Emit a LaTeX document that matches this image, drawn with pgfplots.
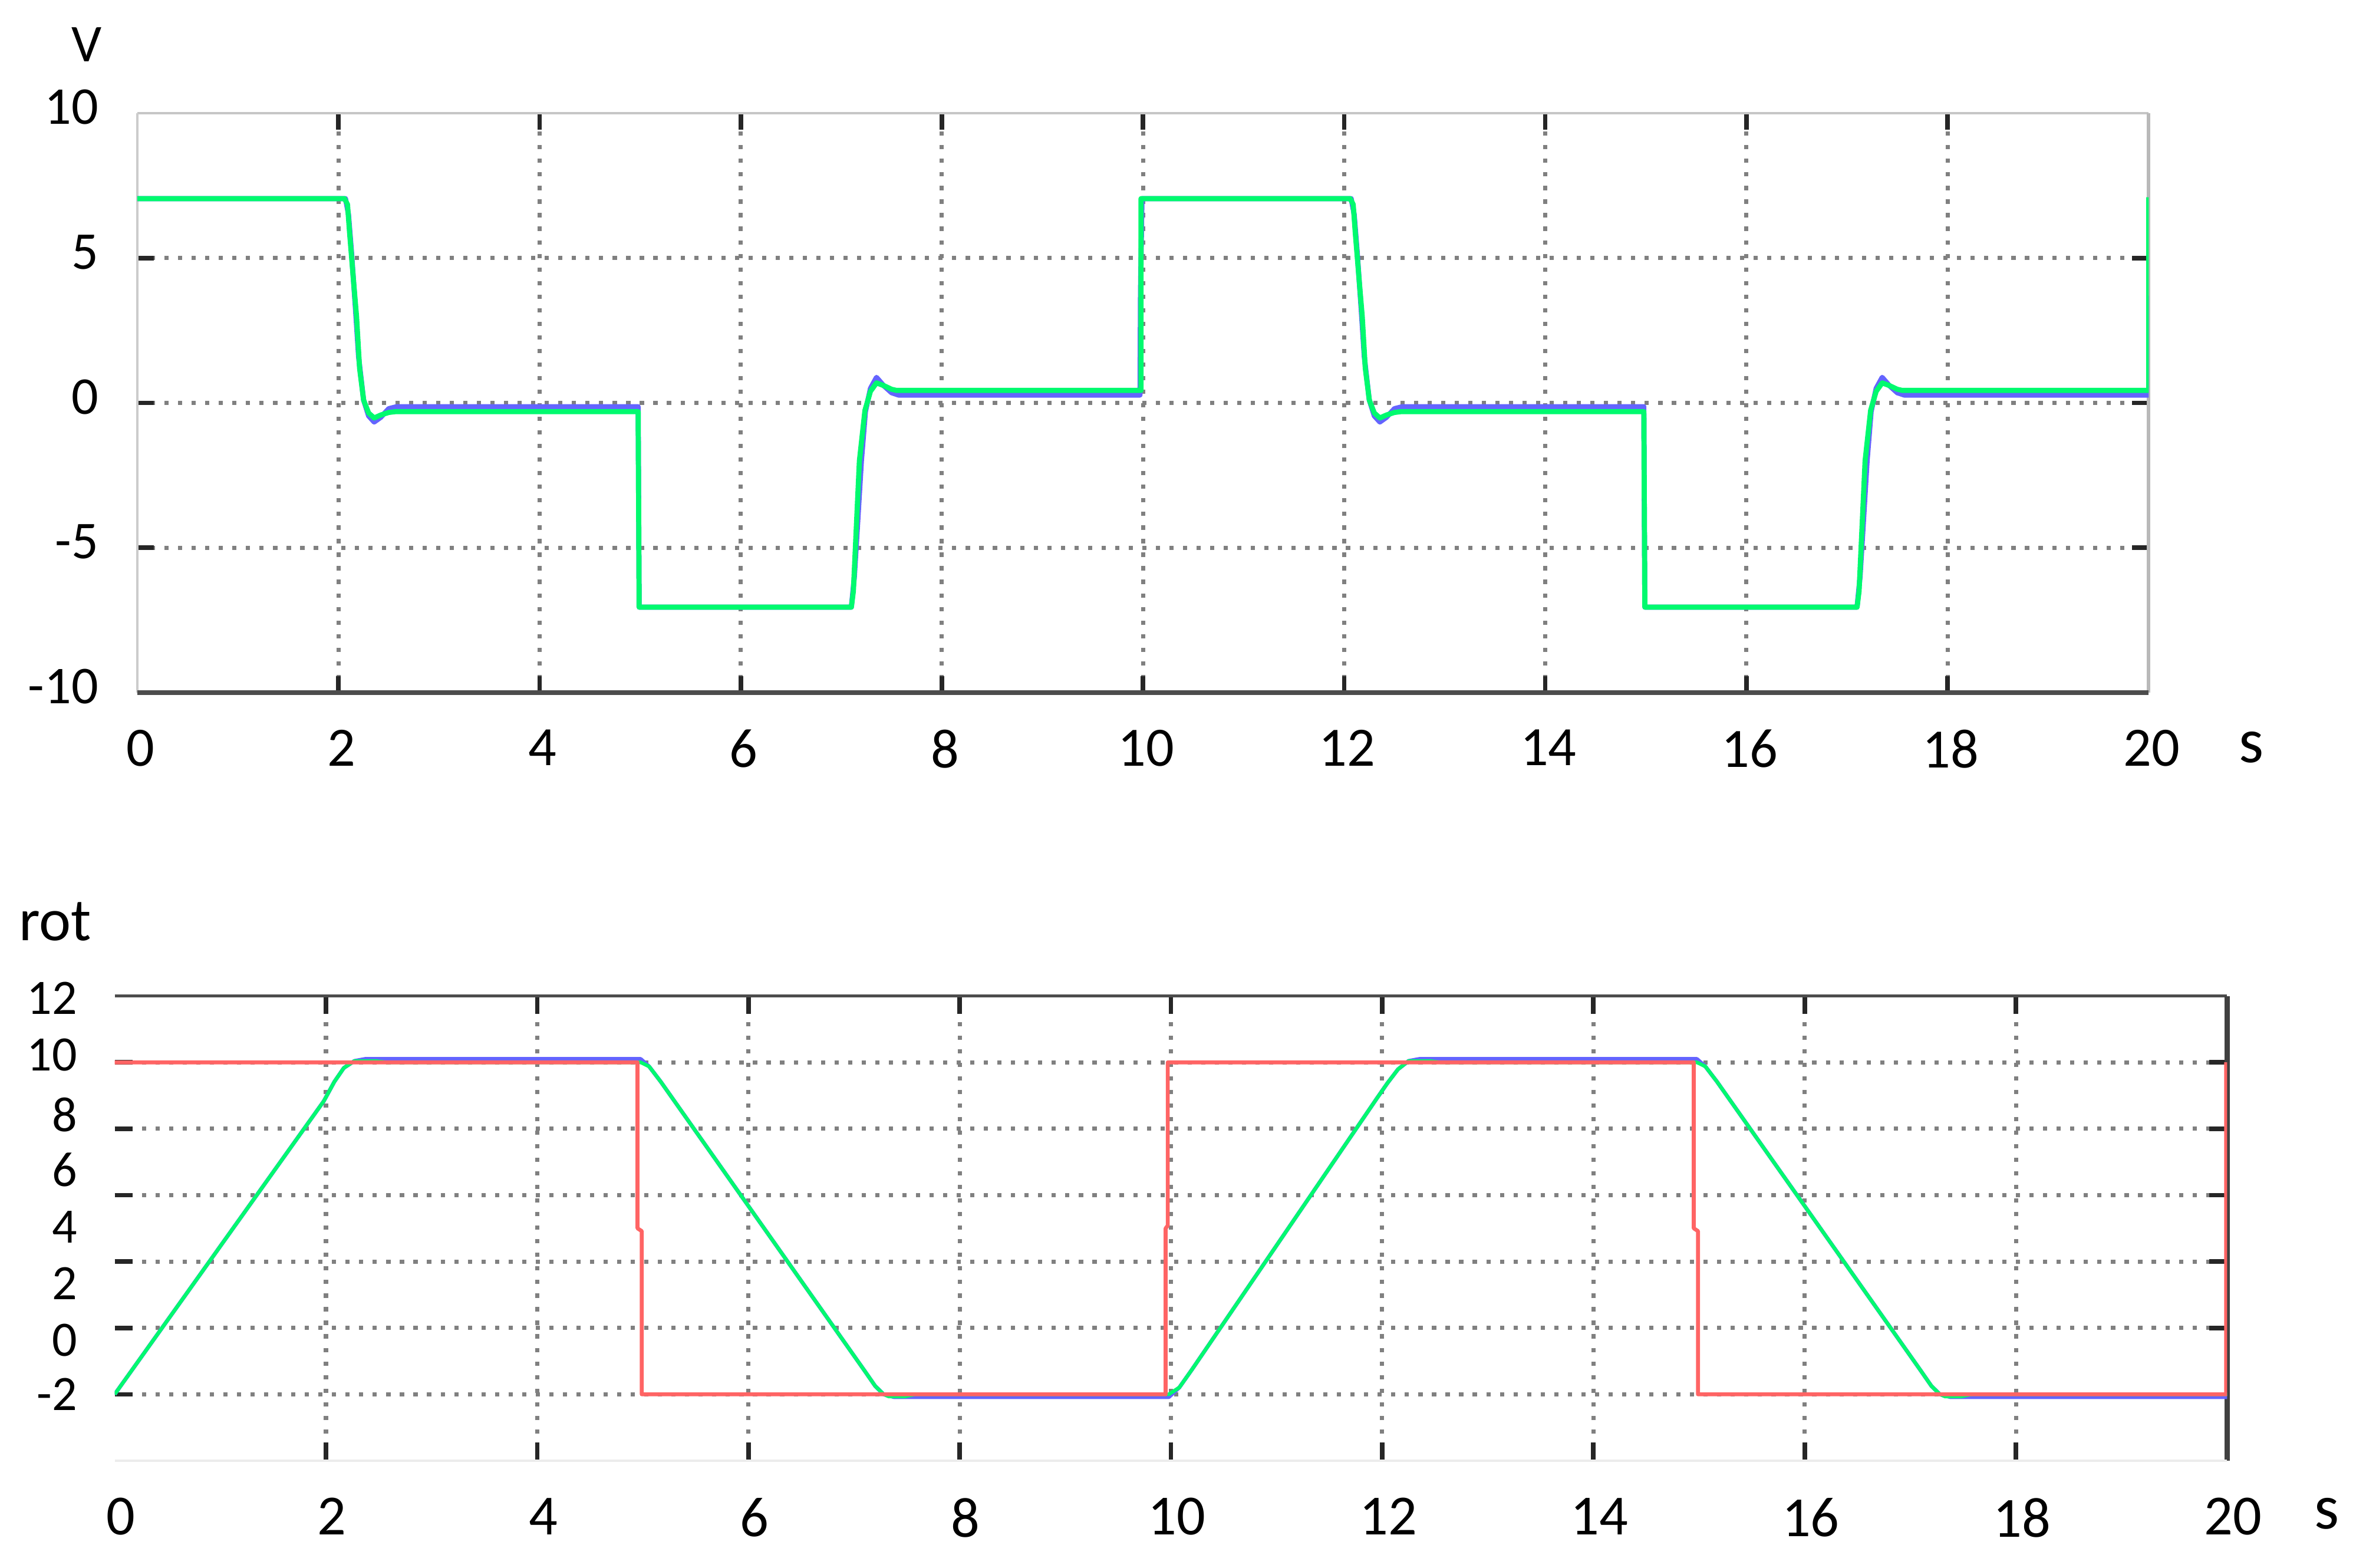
\documentclass[border=0pt]{standalone}
\usepackage{fontspec}
\setmainfont{Carlito}
\usepackage{pgfplots}
\pgfplotsset{compat=1.18}
\definecolor{cgreen}{RGB}{0,250,110}
\definecolor{cblue}{RGB}{100,100,255}
\definecolor{cred}{RGB}{255,100,100}
\pgfplotsset{
  mystyle/.style={
    scale only axis, anchor=south west,
    xmin=0, xmax=20,
    axis line style={draw=none},
    grid=major,
    major grid style={black!50, line width=0.7pt, dash pattern=on 0.7pt off 1.55pt},
    major tick style={gray!30!black, line width=0.75pt},
    extra tick style={grid=none, major tick length=0pt, major tick style={draw=none}},
    clip mode=individual,
    every axis plot/.append style={mark=none, line join=round},
  }
}
\begin{document}
\begin{tikzpicture}
\useasboundingbox (0,0) rectangle (392pt,259.75pt);
% ---------------- top plot ----------------
\begin{axis}[mystyle,
  at={(22.75pt,145pt)}, width=333.25pt, height=96pt,
  ymin=-10, ymax=10,
  xtick={2,4,...,18}, xticklabels={2,4,6,8,10,12,14,16,18},
  extra x ticks={0,20}, extra x tick labels={0,20},
  ytick={-5,0,5}, yticklabels={-5,0,5},
  extra y ticks={-10,10}, extra y tick labels={-10,10},
  major tick length=2.75pt,
  xticklabel style={font=\fontsize{9.2}{9.2}\selectfont, anchor=north, inner sep=0pt, yshift=-5.95pt, xshift=0.5pt},
  yticklabel style={font=\fontsize{8.8}{8.8}\selectfont, anchor=east, inner sep=0pt, xshift=-6.25pt, yshift=1pt},
]
\draw[gray!45, line width=0.45pt] (rel axis cs:0,1) -- (rel axis cs:1,1);
\draw[gray!40, line width=0.45pt] (rel axis cs:0,0) -- (rel axis cs:0,1);
\draw[gray!55, line width=0.6pt] (rel axis cs:1,0) -- (rel axis cs:1,1);
\draw[gray!60!black, line width=0.8pt] (rel axis cs:0,0) -- (rel axis cs:1,0);
\addplot[cblue, line width=0.85pt] coordinates {
(0,7.05) (2.07,7.05) (2.1,6.5) (2.13,5.2) (2.17,3.2) (2.2,1.6) (2.25,0.1) (2.3,-0.45) (2.355,-0.66) (2.42,-0.5) (2.5,-0.2) (2.58,-0.13)
(4.98,-0.13) (4.99,-7.05)
(7.1,-7.05) (7.13,-6.0) (7.16,-4.3) (7.2,-2.0) (7.24,-0.3) (7.29,0.5) (7.35,0.88) (7.42,0.6) (7.5,0.35) (7.57,0.27)
(9.97,0.27) (9.975,3.8) (9.99,7.05)
(12.07,7.05) (12.1,6.5) (12.13,5.2) (12.17,3.2) (12.2,1.6) (12.25,0.1) (12.3,-0.45) (12.355,-0.66) (12.42,-0.5) (12.5,-0.2) (12.58,-0.13)
(14.98,-0.13) (14.985,-3.8) (14.99,-7.05)
(17.1,-7.05) (17.13,-6.0) (17.16,-4.3) (17.2,-2.0) (17.24,-0.3) (17.29,0.5) (17.35,0.88) (17.42,0.6) (17.5,0.35) (17.57,0.27)
(20,0.27) (20,3.7)
};
\addplot[cgreen, line width=0.85pt] coordinates {
(0,7.05) (2.06,7.05) (2.09,6.85) (2.11,5.9) (2.15,4.2) (2.18,2.98) (2.21,1.2) (2.25,0.1) (2.3,-0.35) (2.355,-0.52) (2.42,-0.42) (2.5,-0.33) (2.57,-0.3)
(4.98,-0.3) (4.99,-7.05)
(7.1,-7.05) (7.12,-6.5) (7.14,-5.0) (7.18,-2.0) (7.235,-0.26) (7.29,0.4) (7.35,0.69) (7.42,0.6) (7.5,0.47) (7.55,0.43)
(9.98,0.43) (9.98,7.05)
(12.06,7.05) (12.09,6.85) (12.11,5.9) (12.15,4.2) (12.18,2.98) (12.21,1.2) (12.25,0.1) (12.3,-0.35) (12.355,-0.52) (12.42,-0.42) (12.5,-0.33) (12.57,-0.3)
(14.98,-0.3) (14.99,-7.05)
(17.1,-7.05) (17.12,-6.5) (17.14,-5.0) (17.18,-2.0) (17.235,-0.26) (17.29,0.4) (17.35,0.69) (17.42,0.6) (17.5,0.47) (17.55,0.43)
(20,0.43) (20,7.1)
};
\end{axis}
% ---------------- bottom plot ----------------
\begin{axis}[mystyle,
  at={(19pt,17.75pt)}, width=350pt, height=77pt,
  ymin=-4.4, ymax=12.4,
  xtick={2,4,...,18}, xticklabels={2,4,6,8,10,12,14,16,18},
  extra x ticks={0,20}, extra x tick labels={0,20},
  ytick={-2,0.4,2.8,5.2,7.6,10}, yticklabels={},
  extra y ticks={12.32,10.27,8.11,6.11,4.05,2.0,-0.05,-2},
  extra y tick labels={12,10,8,6,4,2,0,-2},
  major tick length=3pt,
  xticklabel style={font=\fontsize{9.4}{9.4}\selectfont, anchor=north, inner sep=0pt, yshift=-6pt, xshift=1pt},
  yticklabel style={font=\fontsize{8.2}{8.2}\selectfont, anchor=east, inner sep=0pt, xshift=-6pt},
]
\draw[gray!60!black, line width=0.4pt] (rel axis cs:0,1) -- (rel axis cs:1,1);
\draw[gray!50!black, line width=0.8pt] (rel axis cs:1,0) -- (rel axis cs:1,1);
\draw[gray!15, line width=0.4pt] (rel axis cs:0,0) -- (rel axis cs:1,0);
\addplot[cblue, line width=0.65pt] coordinates {
(0,-2) (1.98,8.6) (2.08,9.3) (2.17,9.8) (2.27,10.05) (2.37,10.12)
(4.98,10.12) (5.06,9.85) (5.17,9.3) (7.1,-1.15) (7.2,-1.7) (7.28,-2.0) (7.38,-2.1)
(9.98,-2.1) (10.08,-1.75) (10.2,-1.1) (11.95,8.7) (12.05,9.25) (12.15,9.75) (12.25,10.05) (12.35,10.12)
(14.98,10.12) (15.06,9.85) (15.17,9.3) (17.1,-1.15) (17.2,-1.7) (17.28,-2.0) (17.38,-2.1)
(20,-2.1)
};
\addplot[cgreen, line width=0.6pt] coordinates {
(0,-2) (1.98,8.6) (2.08,9.3) (2.17,9.8) (2.27,10.05) (2.47,10.05) (2.57,10.0)
(4.98,10.0) (5.06,9.85) (5.17,9.3) (7.1,-1.15) (7.2,-1.7) (7.28,-2.0) (7.33,-2.08) (7.48,-2.08) (7.58,-2.0)
(9.98,-2.0) (10.08,-1.75) (10.2,-1.1) (11.95,8.7) (12.05,9.25) (12.15,9.75) (12.25,10.05) (12.45,10.05) (12.55,10.0)
(14.98,10.0) (15.06,9.85) (15.17,9.3) (17.1,-1.15) (17.2,-1.7) (17.28,-2.0) (17.33,-2.08) (17.48,-2.08) (17.58,-2.0)
(20,-2.0)
};
\addplot[cred, line width=0.65pt] coordinates {
(0,10) (4.95,10) (4.95,4.0) (4.99,3.9) (4.99,-2)
(9.95,-2) (9.95,4.0) (9.97,4.1) (9.97,10)
(14.95,10) (14.95,4.0) (14.99,3.9) (14.99,-2)
(19.99,-2) (19.99,10)
};
\end{axis}
% ---------------- axis unit labels ----------------
\node[font=\fontsize{8.8}{8.8}\selectfont, inner sep=0pt] at (14.4pt,252.4pt) {V};
\node[font=\fontsize{10.5}{10.5}\selectfont, anchor=base, inner sep=0pt] at (373pt,133.4pt) {s};
\node[font=\fontsize{10}{10}\selectfont, anchor=base, inner sep=0pt] at (9.15pt,103.9pt) {rot};
\node[font=\fontsize{10.5}{10.5}\selectfont, anchor=base, inner sep=0pt] at (385.5pt,6.5pt) {s};
\end{tikzpicture}
\end{document}
